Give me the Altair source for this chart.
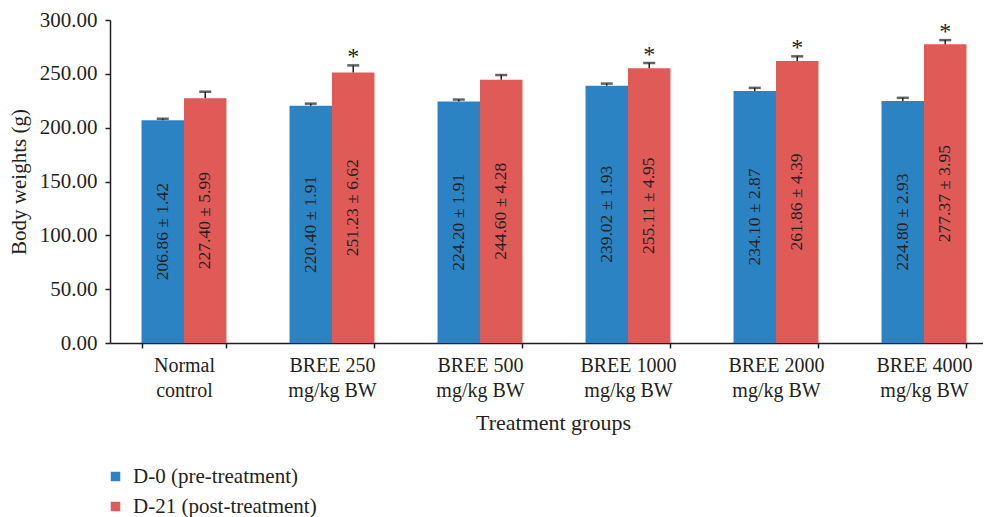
import altair as alt
import pandas as pd

groups = ["Normal control", "BREE 250 mg/kg BW", "BREE 500 mg/kg BW",
          "BREE 1000 mg/kg BW", "BREE 2000 mg/kg BW", "BREE 4000 mg/kg BW"]
series = ["D-0 (pre-treatment)", "D-21 (post-treatment)"]
d0_mean = [206.86, 220.40, 224.20, 239.02, 234.10, 224.80]
d0_sd = [1.42, 1.91, 1.91, 1.93, 2.87, 2.93]
d21_mean = [227.40, 251.23, 244.60, 255.11, 261.86, 277.37]
d21_sd = [5.99, 6.62, 4.28, 4.95, 4.39, 3.95]
d21_star = ["", "*", "", "*", "*", "*"]
y_ticks = [0, 50, 100, 150, 200, 250, 300]
colors = ["#2b83c4", "#e05a57"]

rows = []
for i, g in enumerate(groups):
    rows.append(dict(group=g, series=series[0], mean=d0_mean[i], sd=d0_sd[i], star=""))
    rows.append(dict(group=g, series=series[1], mean=d21_mean[i], sd=d21_sd[i], star=d21_star[i]))
df = pd.DataFrame(rows)

FONT = "Liberation Serif"
TXT = "#231f20"

label_expr = ("datum.label == 'Normal control' ? ['Normal', 'control'] : "
              "[slice(datum.label, 0, indexof(datum.label, ' mg')), "
              "slice(datum.label, indexof(datum.label, ' mg') + 1)]")

x = alt.X("group:N", sort=groups,
          scale=alt.Scale(paddingInner=0.426, paddingOuter=0.213, range=[0, 888]),
          axis=alt.Axis(title="Treatment groups", labelAngle=0, tickBand="extent",
                        labelExpr=label_expr, labelFontSize=20, labelLineHeight=25,
                        labelPadding=7, tickSize=5, titleFontSize=22, titlePadding=12,
                        titleFontWeight="normal", labelFont=FONT, titleFont=FONT,
                        labelColor=TXT, titleColor=TXT, domainColor=TXT, tickColor=TXT,
                        domainWidth=1.5, tickWidth=1.5, titleX=443))
xo = alt.XOffset("series:N", sort=series, scale=alt.Scale(paddingInner=0, paddingOuter=0))

yscale = alt.Scale(domain=[0, 300], nice=False)
yaxis = alt.Axis(title="Body weights (g)", values=y_ticks, format=".2f", grid=False,
                 labelFontSize=21, titleFontSize=21, titleFontWeight="normal",
                 labelFont=FONT, titleFont=FONT, labelColor=TXT, titleColor=TXT,
                 domainColor=TXT, tickColor=TXT, tickSize=5, labelPadding=8,
                 titlePadding=10, domainWidth=1.5, tickWidth=1.5)

base = alt.Chart(df).transform_calculate(
    upper="datum.mean + datum.sd",
    half="datum.mean / 2",
    label="format(datum.mean, '.2f') + ' ± ' + format(datum.sd, '.2f')",
).encode(x=x, xOffset=xo)

bars = base.mark_bar().encode(
    y=alt.Y("mean:Q", scale=yscale, axis=yaxis),
    color=alt.Color("series:N", sort=series,
                    scale=alt.Scale(domain=series, range=colors),
                    legend=alt.Legend(title=None, orient="none", legendX=-5, legendY=446,
                                      direction="vertical", symbolType="square",
                                      symbolSize=90, symbolStrokeWidth=0,
                                      labelFontSize=21, labelFont=FONT, labelColor=TXT,
                                      labelOffset=7, rowPadding=8, padding=0,
                                      labelLimit=0)),
)
rules = base.mark_rule(color=TXT, strokeWidth=1.5).encode(y="mean:Q", y2="upper:Q")
caps = base.mark_tick(color=TXT, size=12, thickness=2.5).encode(y="upper:Q")
labels = base.mark_text(angle=270, font=FONT, fontSize=17.5, color=TXT,
                        baseline="middle", align="center").encode(y="half:Q", text="label:N")
stars = base.mark_text(font=FONT, fontSize=24, color=TXT, baseline="middle",
                       align="center", dy=-8).encode(y="upper:Q", text="star:N")

chart = alt.layer(bars, rules, caps, labels, stars).properties(
    width=873, height=323,
    padding={"left": 102, "top": 12, "right": 0, "bottom": 174},
    autosize=alt.AutoSizeParams(type="none"),
).configure_view(stroke=None)

chart.save("out.html", embed_options={"renderer": "svg", "actions": False})
